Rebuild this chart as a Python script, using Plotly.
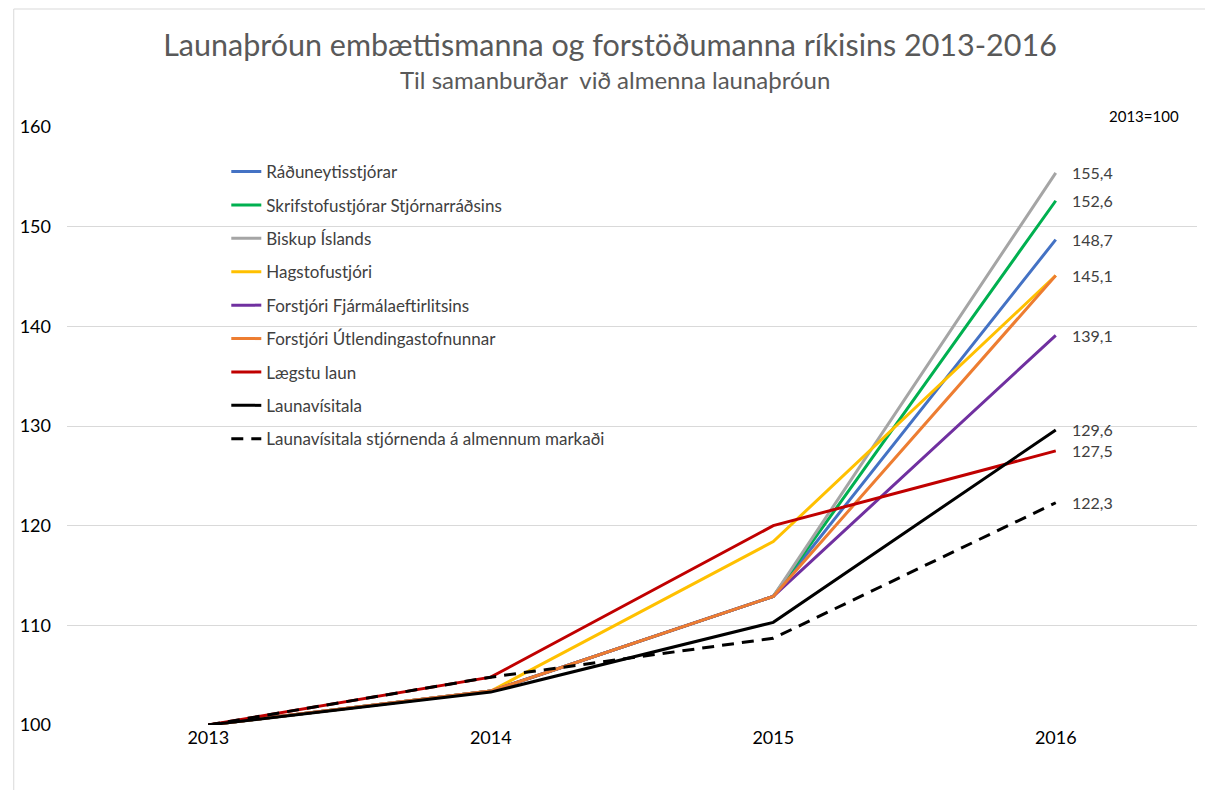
import plotly.graph_objects as go

years = ["2013", "2014", "2015", "2016"]

series_names = [
    "Ráðuneytisstjórar",
    "Skrifstofustjórar Stjórnarráðsins",
    "Biskup Íslands",
    "Hagstofustjóri",
    "Forstjóri Fjármálaeftirlitsins",
    "Forstjóri Útlendingastofnunnar",
    "Lægstu laun",
    "Launavísitala",
    "Launavísitala stjórnenda á almennum markaði",
]

radunevtisstjorar = [100, 103.4, 112.9, 148.7]
skrifstofustjorar = [100, 103.4, 112.9, 152.6]
biskup = [100, 103.4, 112.9, 155.4]
hagstofustjori = [100, 103.4, 118.4, 145.1]
forstjori_fme = [100, 103.4, 112.9, 139.1]
forstjori_utl = [100, 103.4, 112.9, 145.1]
laegstu_laun = [100, 104.8, 120.0, 127.5]
launavisitala = [100, 103.3, 110.3, 129.6]
launavisitala_stj = [100, 104.8, 108.7, 122.3]

end_labels = ["148,7", "152,6", "155,4", None, "139,1", "145,1", "127,5", "129,6", "122,3"]

all_values = [radunevtisstjorar, skrifstofustjorar, biskup, hagstofustjori,
              forstjori_fme, forstjori_utl, laegstu_laun, launavisitala, launavisitala_stj]

colors = ["#4472C4", "#00B050", "#A5A5A5", "#FFC000", "#7030A0",
          "#ED7D31", "#C00000", "#000000", "#000000"]
dashes = ["solid"] * 8 + ["12px,8px"]

FONT = "Lato"
OFF = 8  # page offset of the figure
W, H = 1213, 790
L, T = 62 - OFF, 127 - OFF
R, B = W - (1197 - OFF), H - (725 - OFF)
PW = W - L - R
PH = H - T - B


def px(xp):  # page x -> paper x
    return (xp - OFF - L) / PW


def py(yp):  # page y -> paper y
    return (H - B - (yp - OFF)) / PH


fig = go.Figure()
for i, (name, vals) in enumerate(zip(series_names, all_values)):
    fig.add_trace(go.Scatter(
        x=years, y=vals, name=name, mode="lines",
        legendgroup=f"g{i}",
        line=dict(color=colors[i], width=3, dash=dashes[i]),
        hoverinfo="x+y+name",
    ))

last_idx = len(years) - 1
for vals, lab in zip(all_values, end_labels):
    if lab is None:
        continue
    fig.add_annotation(x=last_idx, y=vals[-1], text=lab, showarrow=False,
                       xanchor="left", yanchor="middle", xshift=14,
                       font=dict(family=FONT, size=16, color="#404040"))

fig.add_annotation(xref="paper", yref="paper", x=px(1181), y=py(116),
                   text="2013=100", showarrow=False, xanchor="right", yanchor="middle",
                   font=dict(family=FONT, size=15, color="#000000"))

fig.add_annotation(xref="paper", yref="paper", x=px(612), y=py(80),
                   text="Til samanburðar  við almenna launaþróun", showarrow=False,
                   xanchor="center", yanchor="middle",
                   font=dict(family=FONT, size=24, color="#595959", weight="normal"))

fig.add_shape(type="rect", xref="paper", yref="paper",
              x0=px(OFF + 0.5), x1=1.05, y0=-0.2, y1=py(9),
              line=dict(color="#D9D9D9", width=1), fillcolor="rgba(0,0,0,0)", layer="below")

fig.update_layout(
    width=W, height=H,
    margin=dict(l=L, r=R, t=T, b=B),
    paper_bgcolor="white", plot_bgcolor="white",
    title=dict(text="Launaþróun embættismanna og forstöðumanna ríkisins 2013-2016",
               x=(610 - OFF) / W, xref="container", y=1 - (45 - OFF) / H, yref="container",
               xanchor="center", yanchor="middle",
               font=dict(family=FONT, size=30.5, color="#595959", weight="normal")),
    showlegend=True,
    legend=dict(x=px(222), y=py(154), xanchor="left", yanchor="top",
                bgcolor="rgba(0,0,0,0)", font=dict(family=FONT, size=17, color="#404040"),
                tracegroupgap=8.3),
    xaxis=dict(type="category", range=[-0.5, 3.5], showgrid=False, zeroline=False,
               showline=False, ticks="",
               tickfont=dict(family=FONT, size=18, color="#000000")),
    yaxis=dict(range=[100, 160], dtick=10, showgrid=True, gridcolor="#D9D9D9", gridwidth=1,
               zeroline=False, showline=False, ticks="", ticklabelstandoff=15,
               tickfont=dict(family=FONT, size=18, color="#000000")),
    font=dict(family=FONT),
)

fig.write_html("out.html")
